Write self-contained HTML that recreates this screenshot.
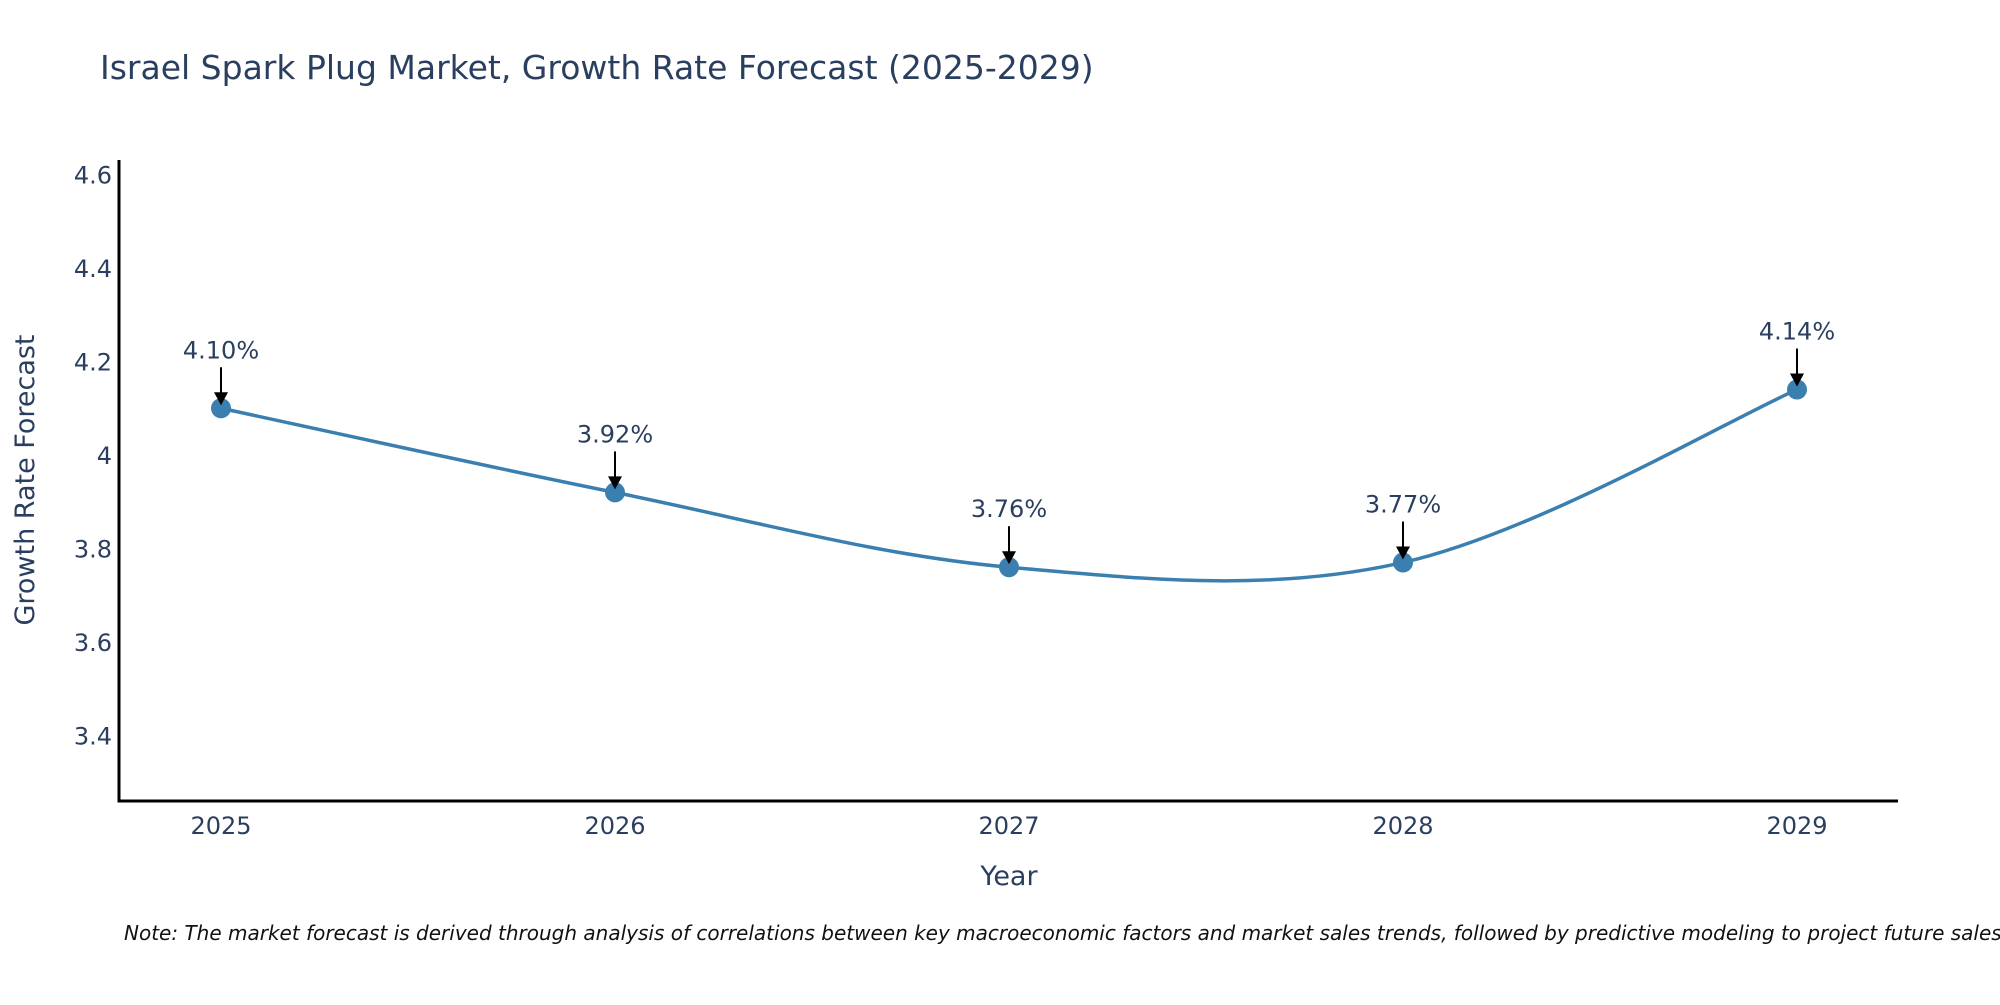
<!DOCTYPE html>
<html><head><meta charset="utf-8"><style>
body{margin:0;background:#fff;}
svg text{font-family:"DejaVu Sans","Liberation Sans",sans-serif;fill:#2a3f5f;}
</style></head><body>
<svg id="chart" width="2000" height="1000" xmlns="http://www.w3.org/2000/svg">
<text x="100" y="79" font-size="33">Israel Spark Plug Market, Growth Rate Forecast (2025-2029)</text>
<g id="yticks"></g>
<g id="xticks"></g>
<line x1="119" y1="160" x2="119" y2="802" stroke="#000" stroke-width="3"/>
<line x1="117.5" y1="801" x2="1898" y2="801" stroke="#000" stroke-width="3"/>
<text transform="translate(34,480) rotate(-90)" text-anchor="middle" font-size="27">Growth Rate Forecast</text>
<text x="1009" y="885" text-anchor="middle" font-size="27">Year</text>
<g id="series"></g>
<text x="124" y="940" font-size="20" font-style="italic" style="fill:#111">Note: The market forecast is derived through analysis of correlations between key macroeconomic factors and market sales trends, followed by predictive modeling to project future sales.</text>
</svg>
<script>
const years = ["2025","2026","2027","2028","2029"];
const growthValues = [4.10, 3.92, 3.76, 3.77, 4.14];
const valueLabels = ["4.10%","3.92%","3.76%","3.77%","4.14%"];
const yTickValues = [3.4, 3.6, 3.8, 4, 4.2, 4.4, 4.6];
const yTickLabels = ["3.4","3.6","3.8","4","4.2","4.4","4.6"];

const NS = "http://www.w3.org/2000/svg";
function xScale(i){ return 221 + i * 394; }
function yScale(v){ return 455 - (v - 4) * 467.5; }
function mk(tag, attrs, parent){ const e = document.createElementNS(NS, tag); for (const k in attrs) e.setAttribute(k, attrs[k]); parent.appendChild(e); return e; }

const yt = document.getElementById('yticks');
yTickValues.forEach((v, i) => {
  const t = mk('text', {x: 112, y: yScale(v) + 9, 'text-anchor': 'end', 'font-size': 24}, yt);
  
  
  t.textContent = yTickLabels[i];
});
const xt = document.getElementById('xticks');
years.forEach((y, i) => {
  const t = mk('text', {x: xScale(i), y: 834, 'text-anchor': 'middle', 'font-size': 24}, xt);
  
  
  t.textContent = y;
});

const g = document.getElementById('series');
const pts = growthValues.map((v, i) => [xScale(i), yScale(v)]);
let d = 'M' + pts[0][0] + ',' + pts[0][1];
const s = 0.17;
for (let i = 0; i < pts.length - 1; i++) {
  const p0 = pts[Math.max(0, i - 1)], p1 = pts[i], p2 = pts[i + 1], p3 = pts[Math.min(pts.length - 1, i + 2)];
  const c1 = [p1[0] + (p2[0] - p0[0]) * s, p1[1] + (p2[1] - p0[1]) * s];
  const c2 = [p2[0] - (p3[0] - p1[0]) * s, p2[1] - (p3[1] - p1[1]) * s];
  d += ' C' + c1[0] + ',' + c1[1] + ' ' + c2[0] + ',' + c2[1] + ' ' + p2[0] + ',' + p2[1];
}
const line = mk('path', {d: d, fill: 'none', stroke: '#3b7fb0', 'stroke-width': 3.5}, g);



pts.forEach((p, i) => {
  const c = mk('circle', {cx: p[0], cy: p[1], r: 10, fill: '#3b7fb0'}, g);
  
  
  const a = mk('line', {x1: p[0], y1: p[1] - 41, x2: p[0], y2: p[1] - 14, stroke: '#000', 'stroke-width': 2}, g);
  
  
  const h = mk('polygon', {points: (p[0]-7)+','+(p[1]-16)+' '+(p[0]+7)+','+(p[1]-16)+' '+p[0]+','+(p[1]-3), fill: '#000'}, g);
  
  
  const t = mk('text', {x: p[0], y: p[1] - 50, 'text-anchor': 'middle', 'font-size': 24}, g);
  
  
  t.textContent = valueLabels[i];
});
</script>
</body></html>
